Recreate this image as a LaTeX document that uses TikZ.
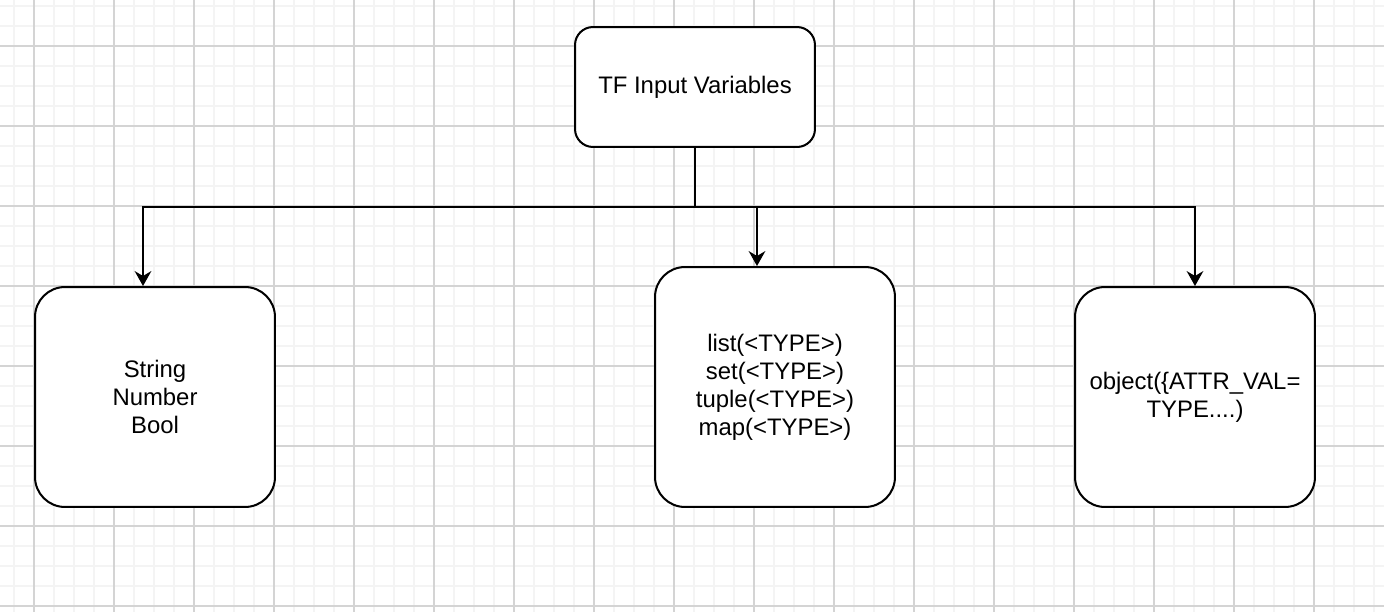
\documentclass[tikz,border=0pt]{standalone}
\usepackage{fontspec}
\setmainfont{Liberation Sans}
\usepackage{tikz}
\usetikzlibrary{positioning,calc,arrows.meta}
\definecolor{gridminor}{HTML}{F4F4F4}
\definecolor{gridmajor}{HTML}{D4D4D4}
\tikzset{
    box/.style={rectangle, rounded corners=0.6cm, draw, line width=1.15pt, fill=white, minimum width=4.8cm, minimum height=4.4cm, align=center, font=\fontsize{13.6}{15.9}\selectfont},
    topbox/.style={box, rounded corners=0.36cm, minimum height=2.4cm},
    conn/.style={draw, line width=1.15pt},
    arrow/.style={conn, -{Stealth[length=8.5pt, width=9.5pt, inset=2.8pt]}},
}

\begin{document}
\begin{tikzpicture}[x=0.02cm, y=-0.02cm]
        \useasboundingbox (0,0) rectangle (1384,612);
        % background grid
        \foreach \gx in {14,34,...,1374}
            \draw[gridminor, line width=0.8pt] (\gx,0) -- (\gx,612);
        \foreach \gy in {6,26,...,606}
            \draw[gridminor, line width=0.8pt] (0,\gy) -- (1384,\gy);
        \foreach \gx in {34,114,...,1314}
            \draw[gridmajor, line width=0.6pt] (\gx,0) -- (\gx,612);
        \foreach \gy in {46,126,...,606}
            \draw[gridmajor, line width=0.6pt] (0,\gy) -- (1384,\gy);

        \node[topbox] (vars) at (695,87) {\raisebox{-1pt}{TF Input Variables}};
        \node[box] (prim) at (155,397) {String\\Number\\Bool};
        \node[box, minimum height=4.8cm] (coll) at (775,387) {list(<TYPE>)\\set(<TYPE>)\\tuple(<TYPE>)\\map(<TYPE>)};
        \node[box] (obj) at (1195,397) {object(\{ATTR\_VAL=\\TYPE....)};

        \coordinate (split) at (695,207);
        \draw[conn] (vars) -- (split);
        \draw[arrow] (split) -| ([xshift=-0.24cm]prim.north);
        \draw[arrow] (split) -| ([xshift=-0.36cm]coll.north);
        \draw[arrow] (split) -| (obj.north);
    \end{tikzpicture}
\end{document}
